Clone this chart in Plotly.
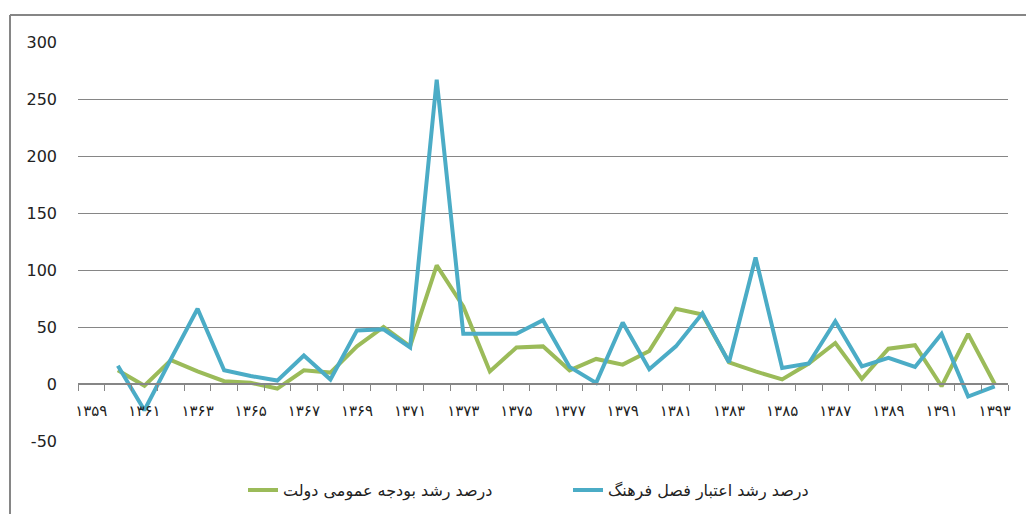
import plotly.graph_objects as go

years = list(range(1360, 1394))
budget_growth = [12, -1.5, 21, 11, 2.5, 1, -4, 12, 10, 33, 50, 33, 104, 68, 11, 32, 33, 12,
                 22, 17, 29, 66, 61, 19, 11, 4, 18, 36, 4.5, 31, 34, -2, 44, 0]
culture_growth = [16, -23, 22, 66, 12, 7, 3, 25, 4, 47, 48, 32, 267, 44, 44, 44, 56, 15,
                  1, 54, 13, 33, 62, 19, 111, 14, 18, 55, 15.5, 23, 15, 44, -11, -2]

tick_years = list(range(1359, 1394, 2))
tick_labels = ["۱۳۵۹", "۱۳۶۱", "۱۳۶۳", "۱۳۶۵", "۱۳۶۷", "۱۳۶۹", "۱۳۷۱", "۱۳۷۳", "۱۳۷۵",
               "۱۳۷۷", "۱۳۷۹", "۱۳۸۱", "۱۳۸۳", "۱۳۸۵", "۱۳۸۷", "۱۳۸۹", "۱۳۹۱", "۱۳۹۳"]
all_years = list(range(1359, 1394))

y_ticks = [-50, 0, 50, 100, 150, 200, 250, 300]
y_tick_labels = ["-50", "0", "50", "100", "150", "200", "250", "300"]

name_budget = "درصد رشد بودجه عمومی دولت"
name_culture = "درصد رشد اعتبار فصل فرهنگ"

fig = go.Figure()
fig.add_trace(go.Scatter(x=years, y=budget_growth, mode="lines", name=name_budget,
                         line=dict(color="#9BBB59", width=4)))
fig.add_trace(go.Scatter(x=years, y=culture_growth, mode="lines", name=name_culture,
                         line=dict(color="#4BACC6", width=4)))

ymin, ymax = -50, 300
boundaries = [y - 0.5 for y in all_years] + [all_years[-1] + 0.5]

fig.update_layout(
    width=1026, height=514,
    margin=dict(l=78, r=18, t=42, b=73, autoexpand=False),
    plot_bgcolor="white", paper_bgcolor="white",
    font=dict(family="DejaVu Sans", color="#222222"),
    xaxis=dict(
        range=[all_years[0] - 0.5, all_years[-1] + 0.5],
        anchor="free", position=(0 - ymin) / (ymax - ymin),
        automargin=False,
        showgrid=False, zeroline=False,
        showline=True, linecolor="#868686", linewidth=2,
        tickmode="array", tickvals=tick_years, ticktext=tick_labels,
        ticks="", ticklabelstandoff=13,
        tickfont=dict(size=15, family="DejaVu Sans", color="#222222"),
        minor=dict(tickmode="array", tickvals=boundaries, ticks="outside",
                   ticklen=6, tickcolor="#868686", tickwidth=1, showgrid=False),
    ),
    yaxis=dict(
        range=[ymin, ymax], automargin=False,
        tickmode="array", tickvals=y_ticks, ticktext=y_tick_labels,
        showgrid=True, gridcolor="#868686", gridwidth=1,
        zeroline=False, showline=False, ticks="",
        ticklabelstandoff=20,
        tickfont=dict(size=16, family="DejaVu Sans", color="#222222"),
    ),
    legend=dict(orientation="h", x=(243 - 78) / 930, xanchor="left",
                y=-0.123, yanchor="middle",
                entrywidth=280, entrywidthmode="pixels",
                font=dict(size=16, family="DejaVu Sans", color="#222222"),
                bgcolor="rgba(0,0,0,0)"),
    showlegend=True,
)

# chart frame (left and top borders)
fx = (10 - 78) / 930
fy = (441 - 15) / 399
fig.add_shape(type="line", xref="paper", yref="paper", x0=fx, x1=fx, y0=-0.5, y1=fy,
              line=dict(color="#868686", width=2))
fig.add_shape(type="line", xref="paper", yref="paper", x0=fx, x1=1.2, y0=fy, y1=fy,
              line=dict(color="#868686", width=2))

fig.write_html("out.html", config={"displayModeBar": False},
               post_script="document.body.style.margin='0';")
